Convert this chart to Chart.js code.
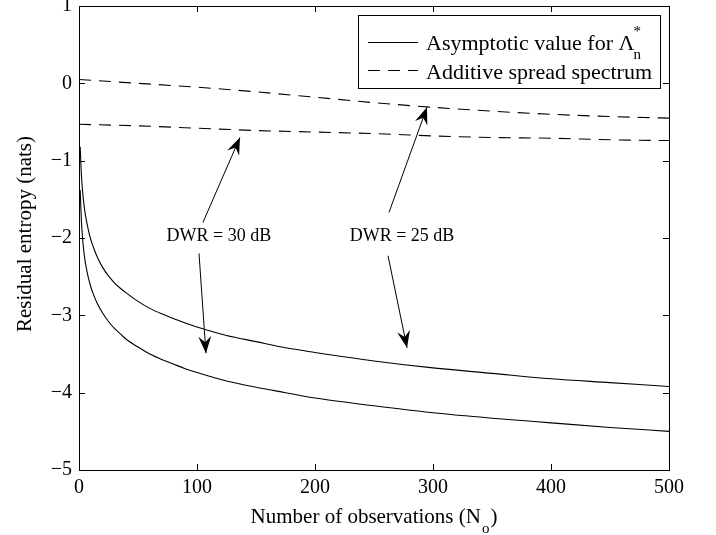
<!DOCTYPE html>
<html>
<head>
<meta charset="utf-8">
<script src="https://cdn.jsdelivr.net/npm/chart.js@4.4.1/dist/chart.umd.min.js"></script>
<style>
  html, body { margin: 0; padding: 0; background: #fff; }
  #chart { display: block; }
</style>
</head>
<body>
<canvas id="chart" width="716" height="535"></canvas>
<script>
const obsSolid = [1, 2, 3, 4, 5, 6, 8, 10, 12, 15, 20, 25, 30, 35, 40, 50, 60, 70, 80, 90, 100,
  125, 150, 175, 200, 250, 300, 350, 400, 450, 500];
const asym25 = [-0.82, -1.18, -1.39, -1.54, -1.66, -1.75, -1.9, -2.02, -2.11, -2.23, -2.38, -2.49, -2.58, -2.65, -2.71, -2.82, -2.91, -2.98, -3.04, -3.1, -3.15,
  -3.26, -3.34, -3.42, -3.48, -3.59, -3.68, -3.75, -3.82, -3.87, -3.92];
const asym30 = [-1.38, -1.77, -2.0, -2.16, -2.28, -2.37, -2.52, -2.63, -2.72, -2.83, -2.97, -3.08, -3.17, -3.24, -3.31, -3.41, -3.5, -3.57, -3.63, -3.69, -3.74,
  -3.85, -3.93, -4.0, -4.07, -4.17, -4.26, -4.33, -4.39, -4.45, -4.5];

const obsDashed = [0, 50, 100, 150, 200, 250, 300, 350, 400, 450, 500];
const spread25 = [0.05, 0.0, -0.05, -0.11, -0.18, -0.25, -0.31, -0.36, -0.4, -0.43, -0.45];
const spread30 = [-0.53, -0.55, -0.58, -0.61, -0.63, -0.65, -0.68, -0.7, -0.71, -0.73, -0.74];

const xTicks = [0, 100, 200, 300, 400, 500];
const yTicks = [1, 0, -1, -2, -3, -4, -5];

// annotation labels and arrows (data units)
const noteText = ['DWR = 30 dB', 'DWR = 25 dB'];
const noteX = [118.6, 273.7];
const noteY = [-1.98, -1.98];
const arrowFrom = [[105, -1.8], [101.7, -2.2], [262.7, -1.67], [261.9, -2.23]];
const arrowTo = [[136.4, -0.7], [107.6, -3.49], [294.9, -0.31], [278, -3.42]];

const serif = '"Liberation Serif", "DejaVu Serif", serif';

function pts(xs, ys) {
  return xs.map((x, i) => ({ x: x, y: ys[i] }));
}

function arrowHead(ctx, x0, y0, x1, y1) {
  const ang = Math.atan2(y1 - y0, x1 - x0);
  const len = 17, half = 6.5, notch = 11;
  ctx.save();
  ctx.translate(x1, y1);
  ctx.rotate(ang);
  ctx.beginPath();
  ctx.moveTo(0, 0);
  ctx.lineTo(-len, -half);
  ctx.lineTo(-notch, 0);
  ctx.lineTo(-len, half);
  ctx.closePath();
  ctx.fill();
  ctx.restore();
}

const framePlugin = {
  id: 'frame',
  afterDraw(chart) {
    const ctx = chart.ctx;
    const a = chart.chartArea;
    const xs = chart.scales.x, ys = chart.scales.y;
    ctx.save();
    ctx.strokeStyle = '#000';
    ctx.fillStyle = '#000';
    ctx.lineWidth = 1;

    // box + inward ticks on all four sides
    ctx.strokeRect(a.left + 0.5, a.top + 0.5, a.right - a.left, a.bottom - a.top);
    ctx.beginPath();
    xTicks.forEach(v => {
      const px = Math.round(xs.getPixelForValue(v)) + 0.5;
      ctx.moveTo(px, a.bottom); ctx.lineTo(px, a.bottom - 6);
      ctx.moveTo(px, a.top); ctx.lineTo(px, a.top + 6);
    });
    yTicks.forEach(v => {
      const py = Math.round(ys.getPixelForValue(v)) + 0.5;
      ctx.moveTo(a.left, py); ctx.lineTo(a.left + 6, py);
      ctx.moveTo(a.right, py); ctx.lineTo(a.right - 6, py);
    });
    ctx.stroke();

    // annotations
    ctx.font = '18px ' + serif;
    ctx.textAlign = 'center';
    ctx.textBaseline = 'middle';
    noteText.forEach((t, i) => {
      ctx.fillText(t, xs.getPixelForValue(noteX[i]), ys.getPixelForValue(noteY[i]));
    });
    arrowFrom.forEach((f, i) => {
      const x0 = xs.getPixelForValue(f[0]), y0 = ys.getPixelForValue(f[1]);
      const x1 = xs.getPixelForValue(arrowTo[i][0]), y1 = ys.getPixelForValue(arrowTo[i][1]);
      ctx.beginPath();
      ctx.moveTo(x0, y0);
      ctx.lineTo(x1, y1);
      ctx.stroke();
      arrowHead(ctx, x0, y0, x1, y1);
    });

    // legend
    const lx = 358, ly = 15, lw = 302, lh = 73;
    ctx.fillStyle = '#fff';
    ctx.fillRect(lx, ly, lw, lh);
    ctx.strokeRect(lx + 0.5, ly + 0.5, lw, lh);
    ctx.fillStyle = '#000';
    ctx.beginPath();
    ctx.moveTo(368, 42.5); ctx.lineTo(418, 42.5);
    ctx.stroke();
    ctx.setLineDash([12, 8]);
    ctx.beginPath();
    ctx.moveTo(368, 70.5); ctx.lineTo(418, 70.5);
    ctx.stroke();
    ctx.setLineDash([]);
    ctx.textAlign = 'left';
    ctx.textBaseline = 'alphabetic';
    ctx.font = '22px ' + serif;
    const s1 = 'Asymptotic value for \u039B';
    ctx.fillText(s1, 426, 50);
    const w1 = ctx.measureText(s1).width;
    ctx.font = '15px ' + serif;
    ctx.fillText('*', 426 + w1 - 1, 36);
    ctx.fillText('n', 426 + w1 - 1, 59);
    ctx.font = '22px ' + serif;
    ctx.fillText('Additive spread spectrum', 426, 79);

    // x axis title with subscript
    ctx.font = '21px ' + serif;
    const t1 = 'Number of observations (N', t2 = ')';
    const wa = ctx.measureText(t1).width;
    ctx.font = '15px ' + serif;
    const ws = ctx.measureText('o').width + 2;
    ctx.font = '21px ' + serif;
    const wb = ctx.measureText(t2).width;
    let sx = (a.left + a.right) / 2 - (wa + ws + wb) / 2;
    ctx.fillText(t1, sx, 523);
    ctx.font = '15px ' + serif;
    ctx.fillText('o', sx + wa + 1, 533);
    ctx.font = '21px ' + serif;
    ctx.fillText(t2, sx + wa + ws, 523);

    // y axis title
    ctx.save();
    ctx.translate(25, 234);
    ctx.rotate(-Math.PI / 2);
    ctx.textAlign = 'center';
    ctx.textBaseline = 'middle';
    ctx.fillText('Residual entropy (nats)', 0, 0);
    ctx.restore();

    ctx.restore();
  }
};

const lineStyle = { borderColor: '#000', borderWidth: 1.1, pointRadius: 0, fill: false, cubicInterpolationMode: 'monotone' };

new Chart(document.getElementById('chart'), {
  type: 'line',
  data: {
    datasets: [
      Object.assign({ label: 'DWR 25 asymptotic', data: pts(obsSolid, asym25) }, lineStyle),
      Object.assign({ label: 'DWR 30 asymptotic', data: pts(obsSolid, asym30) }, lineStyle),
      Object.assign({ label: 'DWR 25 spread', data: pts(obsDashed, spread25), borderDash: [12, 8] }, lineStyle),
      Object.assign({ label: 'DWR 30 spread', data: pts(obsDashed, spread30), borderDash: [12, 8] }, lineStyle)
    ]
  },
  options: {
    responsive: false,
    animation: false,
    layout: { padding: { left: 0, right: 47, top: 6, bottom: 0 } },
    plugins: { legend: { display: false }, tooltip: { enabled: false } },
    scales: {
      x: {
        type: 'linear', min: 0, max: 500,
        afterBuildTicks: s => { s.ticks = xTicks.map(v => ({ value: v })); },
        afterFit: s => { s.height = 65; s.paddingLeft = 0; s.paddingRight = 0; },
        grid: { display: false, drawTicks: false },
        border: { display: false },
        ticks: { color: '#000', padding: 6, maxRotation: 0, font: { family: serif, size: 20 } }
      },
      y: {
        type: 'linear', min: -5, max: 1,
        afterBuildTicks: s => { s.ticks = yTicks.map(v => ({ value: v })); },
        afterFit: s => { s.width = 79; s.paddingTop = 0; s.paddingBottom = 0; },
        grid: { display: false, drawTicks: false },
        border: { display: false },
        ticks: {
          color: '#000', padding: 7, font: { family: serif, size: 20 },
          callback: v => String(v).replace('-', '\u2212')
        }
      }
    }
  },
  plugins: [framePlugin]
});
</script>
</body>
</html>
